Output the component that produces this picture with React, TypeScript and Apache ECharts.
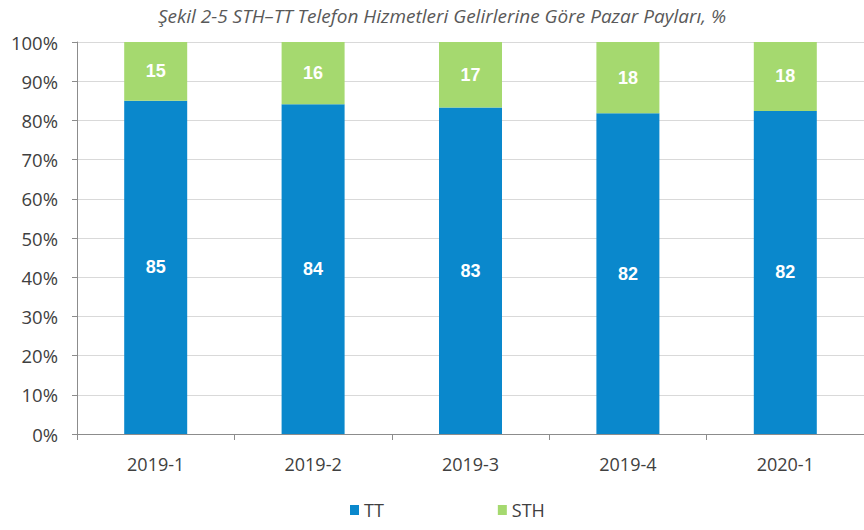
import React, { useEffect, useRef } from "react";
import * as echarts from "echarts";

const categories = ["2019-1", "2019-2", "2019-3", "2019-4", "2020-1"];
const ttValues = [85.0, 84.1, 83.3, 81.8, 82.4];
const sthValues = [15.0, 15.9, 16.7, 18.2, 17.6];
const yTicks = [0, 10, 20, 30, 40, 50, 60, 70, 80, 90, 100];

const TITLE = "Şekil 2-5 STH–TT Telefon Hizmetleri Gelirlerine Göre Pazar Payları, %";
const FONT = "'Open Sans', sans-serif";

export default function App() {
  const ref = useRef<HTMLDivElement>(null);
  useEffect(() => {
    if (!ref.current) return;
    const chart = echarts.init(ref.current, null, { renderer: "svg" });
    const labelStyle = {
      show: true,
      position: "inside",
      color: "#ffffff",
      fontWeight: "bold",
      fontSize: 18,
      fontFamily: "Arial, 'Liberation Sans', sans-serif",
      formatter: (p: any) => String(Math.round(p.value)),
    };
    chart.setOption({
      animation: false,
      backgroundColor: "#ffffff",
      title: {
        text: TITLE,
        left: 437,
        textAlign: "center",
        top: 1,
        textStyle: {
          fontSize: 19,
          fontStyle: "italic",
          fontWeight: "normal",
          color: "#595959",
          fontFamily: FONT,
        },
      },
      legend: {
        bottom: 6,
        left: 345,
        itemGap: 114,
        itemWidth: 9,
        itemHeight: 10,
        icon: "rect",
        textStyle: { fontSize: 18, color: "#404040", fontFamily: FONT },
        data: ["TT", "STH"],
      },
      grid: { left: 77, top: 42, width: 791, bottom: 96 },
      xAxis: {
        type: "category",
        data: categories,
        axisLine: { lineStyle: { color: "#8c8c8c" } },
        axisTick: { show: true, length: 6, lineStyle: { color: "#8c8c8c" } },
        axisLabel: { fontSize: 18, color: "#404040", fontFamily: FONT, margin: 21 },
      },
      yAxis: {
        type: "value",
        min: 0,
        max: 100,
        interval: 10,
        axisLine: { show: true, lineStyle: { color: "#8c8c8c" } },
        axisTick: { show: true, length: 5, lineStyle: { color: "#8c8c8c" } },
        splitLine: { lineStyle: { color: "#d9d9d9" } },
        axisLabel: {
          fontSize: 18.5,
          color: "#404040",
          fontFamily: FONT,
          margin: 19,
          formatter: (v: number) => (yTicks.includes(v) ? v + "%" : ""),
        },
      },
      series: [
        {
          name: "TT",
          type: "bar",
          stack: "total",
          data: ttValues,
          barWidth: 63,
          itemStyle: { color: "#0a88cc" },
          label: labelStyle,
        },
        {
          name: "STH",
          type: "bar",
          stack: "total",
          data: sthValues,
          barWidth: 63,
          itemStyle: { color: "#a5d96f" },
          label: labelStyle,
        },
      ],
    });
    return () => chart.dispose();
  }, []);
  return <div ref={ref} style={{ width: 864, height: 530, position: "absolute", left: 0, top: 0 }} />;
}
